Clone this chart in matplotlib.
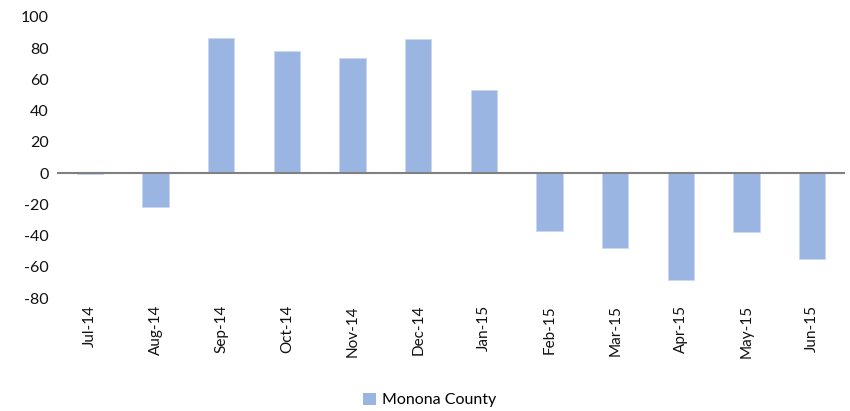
import matplotlib
matplotlib.use("Agg")
import matplotlib.pyplot as plt
from matplotlib.patches import Patch

months = ["Jul-14", "Aug-14", "Sep-14", "Oct-14", "Nov-14", "Dec-14",
          "Jan-15", "Feb-15", "Mar-15", "Apr-15", "May-15", "Jun-15"]
values = [-0.5, -21.5, 86.5, 78.5, 73.5, 85.8, 53.2, -37.0, -48.0, -68.5, -37.5, -55.0]
series_name = "Monona County"
yticks = [-80, -60, -40, -20, 0, 20, 40, 60, 80, 100]

bar_color = "#9BB5E3"
plt.rcParams['font.family'] = ['Lato', 'DejaVu Sans']

fig = plt.figure(figsize=(8.5, 4.11), dpi=100)
ax = fig.add_axes([57/850, 1-298/411, (845-57)/850, (298-17)/411])

x = list(range(len(months)))
ax.bar(x, values, width=0.4, color=bar_color, edgecolor="#C9D7F0", linewidth=0.6, zorder=2)
ax.axhline(0, color="#808080", linewidth=1.5, zorder=3)

ax.set_xlim(-0.5, len(months) - 0.5)
ax.set_ylim(-80, 100)
ax.set_yticks(yticks)
ax.set_yticklabels([str(v) for v in yticks], fontsize=11.5, color="#111111")
ax.set_xticks(x)
ax.set_xticklabels(months, rotation=90, fontsize=11, color="#111111")
ax.tick_params(axis='both', length=0)
ax.tick_params(axis='x', pad=5)
ax.tick_params(axis='y', pad=6)
for s in ax.spines.values():
    s.set_visible(False)

fig.legend(handles=[Patch(facecolor=bar_color, label=series_name)],
           loc='center', bbox_to_anchor=(430/850, 1-400/411), frameon=False,
           fontsize=11.5, handlelength=0.8, handleheight=0.8, handletextpad=0.4)

fig.savefig("out.png", dpi=100)
